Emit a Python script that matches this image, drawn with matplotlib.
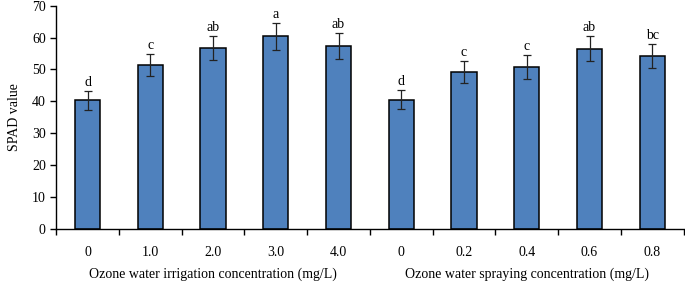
import numpy as np
import matplotlib.pyplot as plt

plt.rcParams['font.family'] = ['Liberation Serif', 'DejaVu Serif']

categories = ['0', '1.0', '2.0', '3.0', '4.0', '0', '0.2', '0.4', '0.6', '0.8']
values = [40.3, 51.3, 56.8, 60.4, 57.4, 40.5, 49.3, 50.8, 56.5, 54.2]
errors = [3.0, 3.5, 3.8, 4.2, 4.0, 3.0, 3.5, 3.8, 4.0, 3.8]
letters = ['d', 'c', 'ab', 'a', 'ab', 'd', 'c', 'c', 'ab', 'bc']
groups = ['Ozone water irrigation concentration (mg/L)',
          'Ozone water spraying concentration (mg/L)']

fig = plt.figure(figsize=(6.85, 2.82), dpi=100)
ax = fig.add_axes([0.082, 0.188, 0.916, 0.792])

x = np.arange(len(values))
ax.bar(x, values, width=0.4, color='#4F81BD', edgecolor='black', linewidth=1.1,
       yerr=errors, error_kw=dict(ecolor='#222222', elinewidth=0.9, capsize=3, capthick=0.9))

for xi, v, e, t in zip(x, values, errors, letters):
    ax.text(xi, v + e + 0.6, t, ha='center', va='bottom', fontsize=10)

ax.set_xlim(-0.5, len(values) - 0.5)
ax.set_ylim(0, 70)
ax.set_yticks(np.arange(0, 71, 10))
ax.set_xticks(np.arange(-0.5, len(values), 1.0))
ax.set_xticklabels([])
ax.set_xticks(x, minor=True)
ax.set_xticklabels(categories, minor=True)
ax.tick_params(axis='x', which='minor', length=0, pad=12, labelsize=10)
ax.tick_params(axis='x', which='major', length=4, width=1, direction='out')
ax.tick_params(axis='y', length=4, width=1, direction='out', labelsize=10)
ax.spines['top'].set_visible(False)
ax.spines['right'].set_visible(False)
ax.spines['left'].set_linewidth(1)
ax.spines['bottom'].set_linewidth(1)
ax.set_ylabel('SPAD value', fontsize=10, labelpad=8)

for i, g in enumerate(groups):
    ax.text(2 + 5 * i, -14.2, g, ha='center', va='center', fontsize=10, clip_on=False)

fig.savefig('out.png', dpi=100)
